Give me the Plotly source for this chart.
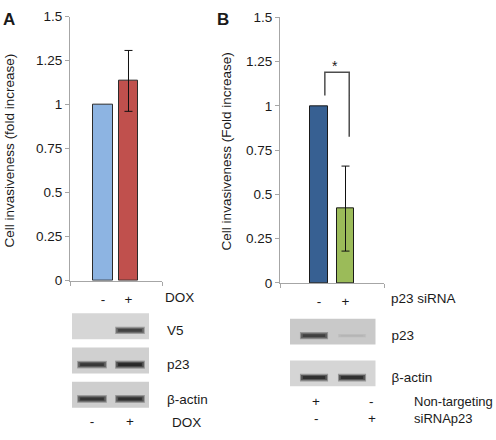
import plotly.graph_objects as go

W, H = 496, 440
FONT = "Liberation Sans, Arial, sans-serif"
TXT = "#1a1a1a"
AXC = "#a6a6a6"

# ---------------- data ----------------
a_labels = ["-", "+"]
a_values = [1.0, 1.135]
a_errors = [None, 0.173]
a_colors = ["#8db4e2", "#c0504d"]

b_labels = ["-", "+"]
b_values = [1.0, 0.42]
b_errors = [None, 0.24]
b_colors = ["#376092", "#9bbb59"]

y_tickvals = [0, 0.25, 0.5, 0.75, 1, 1.25, 1.5]
y_ticktext = ["0", "0.25", "0.5", "0.75", "1", "1.25", "1.5"]

blot_a_rows = ["V5", "p23", "β-actin"]
blot_a_bands = [[0.0, 0.85], [0.9, 1.0], [0.92, 0.95]]
blot_a_bg = ["#d6d6d6", "#d0d0d0", "#cecece"]
blot_a_lanes = ["-", "+"]

blot_b_rows = ["p23", "β-actin"]
blot_b_bands = [[0.85, 0.12], [0.95, 0.95]]
blot_b_bg = ["#c9c9c9", "#d5d5d5"]
cond_nontargeting = ["+", "-"]
cond_sirna = ["-", "+"]


def px(x):
    return x / W


def py(y):
    return 1 - y / H


fig = go.Figure()

# ---------------- bar charts ----------------
def add_bars(values, errors, colors, width, xa, ya, edge):
    for i, (v, e, c) in enumerate(zip(values, errors, colors)):
        err = dict(type="data", array=[e], visible=True, color="#111",
                   thickness=1, width=4) if e else dict(visible=False)
        fig.add_trace(go.Bar(
            x=[i], y=[v], width=width, xaxis=xa, yaxis=ya,
            marker=dict(color=c, line=dict(color=edge, width=1)),
            error_y=err, showlegend=False, hoverinfo="skip"))


add_bars(a_values, a_errors, a_colors, 0.765, "x", "y", "#2b2b2b")
add_bars(b_values, b_errors, b_colors, 0.664, "x2", "y2", "#1a1a1a")

shapes = []
annotations = []

# significance bracket (panel B), derived from the data
lx, rx = 0 + 0.22, 1 + 0.14
top = max(b_values[0], b_values[1] + b_errors[1]) + 0.19
lb = b_values[0] + 0.058
rb = b_values[1] + b_errors[1] + 0.165
shapes.append(dict(type="path", xref="x2", yref="y2",
                   path=f"M {lx},{lb} L {lx},{top} L {rx},{top} L {rx},{rb}",
                   line=dict(color="#4d4d4d", width=1.5)))
annotations.append(dict(x=(lx + rx) / 2 - 0.08, y=top, xref="x2", yref="y2",
                        text="*", showarrow=False, yanchor="bottom",
                        yshift=-4, font=dict(size=14, color=TXT, family=FONT)))

# ---------------- blots ----------------
def add_blot(xa, ya, bands, bgs, halfw, halfh, offset):
    for r, (row, bg) in enumerate(zip(bands, bgs)):
        shapes.append(dict(type="rect", xref=f"{xa} domain", yref=ya,
                           x0=0, x1=1, y0=r - halfh, y1=r + halfh,
                           fillcolor=bg, line=dict(width=0), layer="below"))
        base = int(bg[1:3], 16)
        for lane, inten in enumerate(row):
            if inten <= 0:
                continue
            yy = [r + offset, r + offset]
            layers = [(1.0, 0.35, 3 + 5 * inten),
                      (0.93, 0.7, 2 + 3.5 * inten),
                      (0.8, 0.92, 1 + 2 * inten)]
            for frac, dark, wid in layers:
                g = int(base - (base - 25) * dark * inten)
                fig.add_trace(go.Scatter(
                    x=[lane - halfw * frac, lane + halfw * frac], y=yy,
                    mode="lines", xaxis=xa, yaxis=ya,
                    line=dict(color=f"rgb({g},{g},{g})", width=wid),
                    showlegend=False, hoverinfo="skip"))


add_blot("x3", "y3", blot_a_bands, blot_a_bg, 0.39, 0.38, 0.12)
add_blot("x4", "y4", blot_b_bands, blot_b_bg, 0.37, 0.307, 0.1)

# ---------------- text ----------------
def text(x, y, s, size=13.5, bold=False, angle=0, xanchor="center"):
    annotations.append(dict(x=px(x), y=py(y), xref="paper", yref="paper",
                            text=f"<b>{s}</b>" if bold else s, showarrow=False,
                            textangle=angle, xanchor=xanchor, yanchor="middle",
                            font=dict(size=size, color=TXT, family=FONT)))


text(9, 12.5, "A", size=17, bold=True)
text(222.5, 12.5, "B", size=17, bold=True)
text(9.5, 149, "Cell invasiveness (fold increase)", angle=-90)
text(226.5, 150, "Cell invasiveness (Fold increase)", angle=-90)
text(163, 301, "DOX", xanchor="left")
text(389, 302, "p23 siRNA", xanchor="left")
text(170, 430, "DOX", xanchor="left")

for i, (nt, si) in enumerate(zip(cond_nontargeting, cond_sirna)):
    xx = 316 + i * 55.7
    text(xx, 408, nt)
    text(xx, 425.7, si)
text(412, 408, "Non-targeting", size=13, xanchor="left")
text(412, 425.7, "siRNAp23", size=13, xanchor="left")

tickfont = dict(size=13.5, color=TXT, family=FONT)


def bar_axes(xdom, xr, ydom):
    xa = dict(domain=xdom, range=xr, tickvals=[0, 1], showline=True,
              linecolor=AXC, linewidth=1, ticks="", showgrid=False,
              zeroline=False, tickfont=tickfont, ticklabelstandoff=6,
              fixedrange=True,
              minor=dict(tickmode="array", tickvals=[xr[0], xr[1]],
                         ticks="outside", ticklen=4, tickcolor=AXC,
                         showgrid=False))
    ya = dict(domain=ydom, range=[0, 1.5], tickvals=y_tickvals,
              ticktext=y_ticktext, ticks="outside", ticklen=4,
              tickcolor=AXC, showline=True, linecolor=AXC, linewidth=1,
              showgrid=False, zeroline=False, tickfont=tickfont,
              fixedrange=True)
    return xa, ya


xa1, ya1 = bar_axes([px(70), px(162)], [-1.294, 2.314], [py(283.3), py(10)])
xa1.update(ticktext=a_labels, anchor="y")
ya1.update(anchor="x")
xa2, ya2 = bar_axes([px(280), px(384.3)], [-1.472, 2.464], [py(285.7), py(10.7)])
xa2.update(ticktext=b_labels, anchor="y2")
ya2.update(anchor="x2")

blot_common_x = dict(showline=False, showgrid=False, zeroline=False, ticks="",
                     tickfont=tickfont, fixedrange=True)
blot_common_y = dict(showline=False, showgrid=False, zeroline=False, ticks="",
                     side="right", tickfont=tickfont, fixedrange=True)

xa3 = dict(blot_common_x, domain=[px(72), px(149)], range=[-0.526, 1.5],
           tickvals=[0, 1], ticktext=blot_a_lanes, anchor="y3")
ya3 = dict(blot_common_y, domain=[py(419.25), py(312.75)], range=[2.5, -0.5],
           tickvals=[r + 0.12 for r in range(len(blot_a_rows))],
           ticktext=blot_a_rows, anchor="x3", ticklabelstandoff=17)
xa4 = dict(blot_common_x, domain=[px(290), px(375.5)], range=[-0.632, 1.618],
           showticklabels=False, anchor="y4")
ya4 = dict(blot_common_y, domain=[py(400.95), py(314.35)], range=[1.5, -0.5],
           tickvals=[r + 0.1 for r in range(len(blot_b_rows))],
           ticktext=blot_b_rows, anchor="x4", ticklabelstandoff=15)

fig.update_layout(
    width=W, height=H, margin=dict(l=0, r=0, t=0, b=0, pad=0),
    autosize=False,
    paper_bgcolor="white", plot_bgcolor="white",
    font=dict(family=FONT, color=TXT, size=13.5),
    xaxis=xa1, yaxis=ya1, xaxis2=xa2, yaxis2=ya2,
    xaxis3=xa3, yaxis3=ya3, xaxis4=xa4, yaxis4=ya4,
    shapes=shapes, annotations=annotations, bargap=0, barmode="overlay",
)

fig.write_html("out.html",
               config={"responsive": False, "displayModeBar": False},
               post_script="document.body.style.margin='0';"
                           "document.body.style.overflow='hidden';")
